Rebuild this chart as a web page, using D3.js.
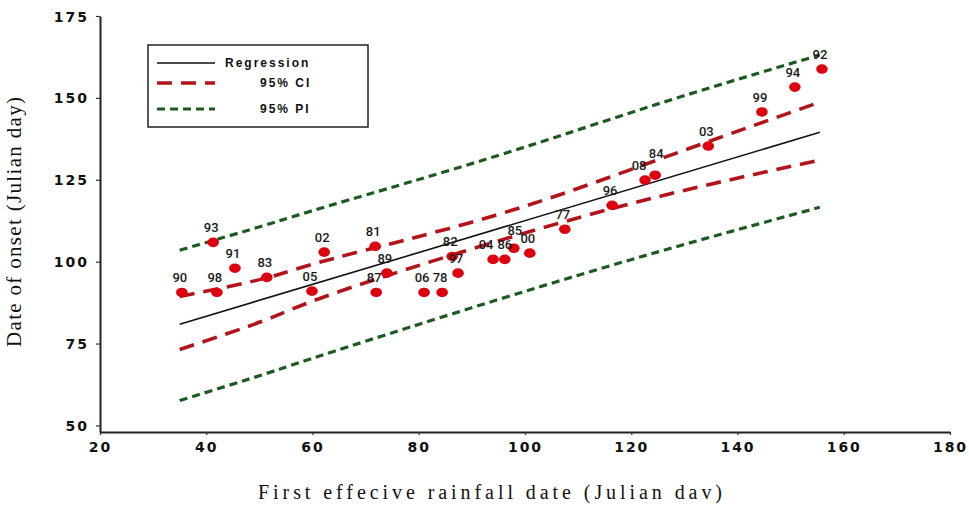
<!DOCTYPE html>
<html>
<head>
<meta charset="utf-8">
<script src="https://cdn.jsdelivr.net/npm/d3@7"></script>
<style>
  body { margin: 0; background: #fff; }
  svg { display: block; }
</style>
</head>
<body>
<div id="chart-area"></div>
<script>
// onset observations: first effective rainfall day vs onset day, labelled by year
var years = ['90', '93', '98', '91', '83', '02', '05', '81', '87', '89', '06', '78', '82', '97',
  '04', '86', '85', '00', '77', '96', '08', '84', '03', '99', '94', '92']
var rainDay = [35.4, 41.3, 42, 45.4, 51.4, 62.2, 59.9, 71.8, 72, 74, 81, 84.4, 86.3, 87.4,
  94, 96.2, 97.9, 100.9, 107.5, 116.4, 122.6, 124.5, 134.5, 144.6, 150.8, 155.9]
var onsetDay = [90.6, 105.9, 90.6, 98, 95.2, 102.9, 91, 104.7, 90.6, 96.5, 90.6, 90.6, 101.6, 96.5,
  100.7, 100.7, 104.1, 102.6, 109.9, 117.2, 124.9, 126.4, 135.3, 145.7, 153.3, 158.8]

// fitted line and its bands
var regX = [35, 155.5]
var regY = [80.9, 139.5]
var bandX = [35, 51, 64, 94.5, 125.5, 155.5]
var ciUpper = [89.4, 94.9, 101.0, 114.2, 131.4, 148.7]
var ciLower = [73.2, 82.1, 90.3, 106.1, 120.0, 131.0]
var piUpper = [103.5, 111.1, 117.5, 132.2, 148.4, 163.1]
var piLower = [57.6, 65.7, 72.6, 88.2, 103.2, 116.6]

var xTicks = [20, 40, 60, 80, 100, 120, 140, 160, 180]
var yTicks = [50, 75, 100, 125, 150, 175]
var legendLabels = ['Regression', '95% CI', '95% PI']

var W = 969
var H = 507

var svg = d3.select('#chart-area')
  .append('svg')
  .attr('width', W)
  .attr('height', H)

var x = d3.scaleLinear().domain([20, 180]).range([100, 950])
var y = d3.scaleLinear().domain([48, 175]).range([432, 16])

var styles = {
  reg: { stroke: '#111', width: 1.6, dash: null },
  ci: { stroke: '#b3141c', width: 3.6, dash: '15,9' },
  pi: { stroke: '#1d5a22', width: 3.2, dash: '8,5' }
}

// axes
var xAxis = svg.append('g')
  .attr('transform', 'translate(0,' + y(48) + ')')
  .call(d3.axisBottom(x).tickValues(xTicks).tickSize(3).tickSizeOuter(0).tickPadding(7))
var yAxis = svg.append('g')
  .attr('transform', 'translate(' + x(20) + ',0)')
  .call(d3.axisLeft(y).tickValues(yTicks).tickSize(4).tickSizeOuter(0).tickPadding(7))

svg.selectAll('.domain').attr('stroke', '#222').attr('stroke-width', 2)
svg.selectAll('.tick line').attr('stroke', '#333').attr('stroke-width', 1.2)
svg.selectAll('.tick text')
  .attr('fill', '#111')
  .attr('font-family', 'DejaVu Sans, sans-serif')
  .attr('font-weight', 'bold')
  .attr('font-size', '14px')
  .attr('letter-spacing', '2px')
yAxis.selectAll('.tick text').attr('dy', '0.36em')

// axis titles
svg.append('text')
  .attr('x', 490)
  .attr('y', 499)
  .attr('text-anchor', 'middle')
  .attr('font-family', 'Liberation Serif, serif')
  .attr('font-size', '20px')
  .attr('fill', '#111')
  .attr('textLength', 464)
  .attr('lengthAdjust', 'spacing')
  .text('First effecive rainfall date  (Julian dav)')

svg.append('text')
  .attr('transform', 'translate(21,222) rotate(-90)')
  .attr('text-anchor', 'middle')
  .attr('font-family', 'Liberation Serif, serif')
  .attr('font-size', '21px')
  .attr('fill', '#111')
  .attr('textLength', 250)
  .attr('lengthAdjust', 'spacing')
  .text('Date of onset  (Julian day)')

// lines
function drawLine (xs, ys, st, curve) {
  var pts = xs.map(function (d, i) { return [d, ys[i]] })
  var line = d3.line()
    .x(function (d) { return x(d[0]) })
    .y(function (d) { return y(d[1]) })
    .curve(curve || d3.curveLinear)
  svg.append('path')
    .datum(pts)
    .attr('d', line)
    .attr('fill', 'none')
    .attr('stroke', st.stroke)
    .attr('stroke-width', st.width)
    .attr('stroke-dasharray', st.dash)
}

drawLine(bandX, piUpper, styles.pi, d3.curveNatural)
drawLine(bandX, piLower, styles.pi, d3.curveNatural)
drawLine(bandX, ciUpper, styles.ci, d3.curveNatural)
drawLine(bandX, ciLower, styles.ci, d3.curveNatural)
drawLine(regX, regY, styles.reg)

// points + year labels
var pts = years.map(function (d, i) { return { year: d, x: rainDay[i], y: onsetDay[i] } })

// small nudges where neighbouring labels would collide
var nudge = { '08': [-4, 0], '84': [3, -7], '04': [-5, 0], '86': [2, 0], '85': [3, -3] }

svg.selectAll('ellipse.pt')
  .data(pts)
  .enter().append('ellipse')
  .attr('class', 'pt')
  .attr('cx', function (d) { return x(d.x) })
  .attr('cy', function (d) { return y(d.y) })
  .attr('rx', 5.8)
  .attr('ry', 4.8)
  .attr('fill', '#dd000e')

svg.selectAll('text.yr')
  .data(pts)
  .enter().append('text')
  .attr('class', 'yr')
  .attr('x', function (d) { return x(d.x) - 2 + (nudge[d.year] ? nudge[d.year][0] : 0) })
  .attr('y', function (d) { return y(d.y) - 10 + (nudge[d.year] ? nudge[d.year][1] : 0) })
  .attr('text-anchor', 'middle')
  .attr('font-family', 'Roboto, sans-serif')
  .attr('font-weight', 500)
  .attr('font-size', '13px')
  .attr('fill', '#1a1a1a')
  .text(function (d) { return d.year })

// legend
var lg = svg.append('g').attr('transform', 'translate(148,45)')
lg.append('rect')
  .attr('width', 220)
  .attr('height', 82)
  .attr('fill', '#fff')
  .attr('stroke', '#222')
  .attr('stroke-width', 1.5)

var legendStyles = [styles.reg, styles.ci, styles.pi]
var legendRows = [18, 38, 64]
var legendTextX = [77, 112, 112]

legendLabels.forEach(function (lab, i) {
  lg.append('line')
    .attr('x1', 9)
    .attr('x2', 67)
    .attr('y1', legendRows[i])
    .attr('y2', legendRows[i])
    .attr('stroke', legendStyles[i].stroke)
    .attr('stroke-width', legendStyles[i].width)
    .attr('stroke-dasharray', legendStyles[i].dash)
  lg.append('text')
    .attr('x', legendTextX[i])
    .attr('y', legendRows[i] + 4)
    .attr('font-family', 'Liberation Sans, sans-serif')
    .attr('font-weight', 'bold')
    .attr('font-size', '12px')
    .attr('letter-spacing', '2px')
    .attr('fill', '#111')
    .text(lab)
})
</script>
</body>
</html>
